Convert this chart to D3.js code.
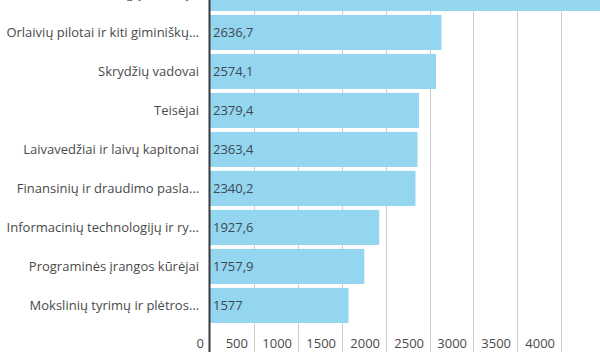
<!DOCTYPE html>
<html>
<head>
<meta charset="utf-8">
<script src="https://cdn.jsdelivr.net/npm/d3@7"></script>
<style>
html, body { margin: 0; padding: 0; background: #fff; }
svg { display: block; font-family: "Open Sans", sans-serif; }
</style>
</head>
<body>
<svg id="chart" width="600" height="360"></svg>
<script>
const categories = [
  "Direktoriai ir kiti aukštųjų vadovų…",
  "Orlaivių pilotai ir kiti giminiškų…",
  "Skrydžių vadovai",
  "Teisėjai",
  "Laivavedžiai ir laivų kapitonai",
  "Finansinių ir draudimo pasla…",
  "Informacinių technologijų ir ry…",
  "Programinės įrangos kūrėjai",
  "Mokslinių tyrimų ir plėtros…"
];
const values = [4980, 2636.7, 2574.1, 2379.4, 2363.4, 2340.2, 1927.6, 1757.9, 1577];
const tickValues = [0, 500, 1000, 1500, 2000, 2500, 3000, 3500, 4000];

const svg = d3.select("#chart");
const x = d3.scaleLinear().domain([0, 4500]).range([210, 605.1]);
const y = d3.scaleBand().domain(categories).range([-28, 326.9]).paddingInner(0.1).paddingOuter(0.1);
const fmt = v => String(v).replace(".", ",");

// grid lines
svg.append("g").selectAll("line").data(tickValues.slice(1)).join("line")
  .attr("x1", d => Math.round(x(d)) + 0.5).attr("x2", d => Math.round(x(d)) + 0.5)
  .attr("y1", 0).attr("y2", 352)
  .attr("stroke", "#cccccc").attr("stroke-width", 1);

// bars
svg.append("g").selectAll("rect").data(values).join("rect")
  .attr("x", x(0))
  .attr("y", (d, i) => y(categories[i]))
  .attr("width", d => x(d) - x(0))
  .attr("height", y.bandwidth())
  .attr("fill", "#94d5ef");

// value labels
svg.append("g").selectAll("text").data(values).join("text")
  .attr("x", x(0) + 3)
  .attr("y", (d, i) => y(categories[i]) + y.bandwidth() / 2)
  .attr("dy", "0.35em")
  .attr("font-size", 13)
  .attr("fill", "#3d4a52")
  .text(d => fmt(d));

// category labels
svg.append("g").selectAll("text").data(categories).join("text")
  .attr("x", 199)
  .attr("y", d => y(d) + y.bandwidth() / 2)
  .attr("dy", "0.35em")
  .attr("text-anchor", "end")
  .attr("font-size", 13)
  .attr("fill", "#4a4a4a")
  .text(d => d);

// tick labels
svg.append("g").selectAll("text").data(tickValues).join("text")
  .attr("x", d => Math.round(x(d)) - 6)
  .attr("y", 343)
  .attr("dy", "0.35em")
  .attr("text-anchor", "end")
  .attr("font-size", 13)
  .attr("fill", "#4a4a4a")
  .text(d => d);

// axis line
svg.append("line")
  .attr("x1", 209.5).attr("x2", 209.5).attr("y1", 0).attr("y2", 352)
  .attr("stroke", "#3a3a3a").attr("stroke-width", 2);
</script>
</body>
</html>
